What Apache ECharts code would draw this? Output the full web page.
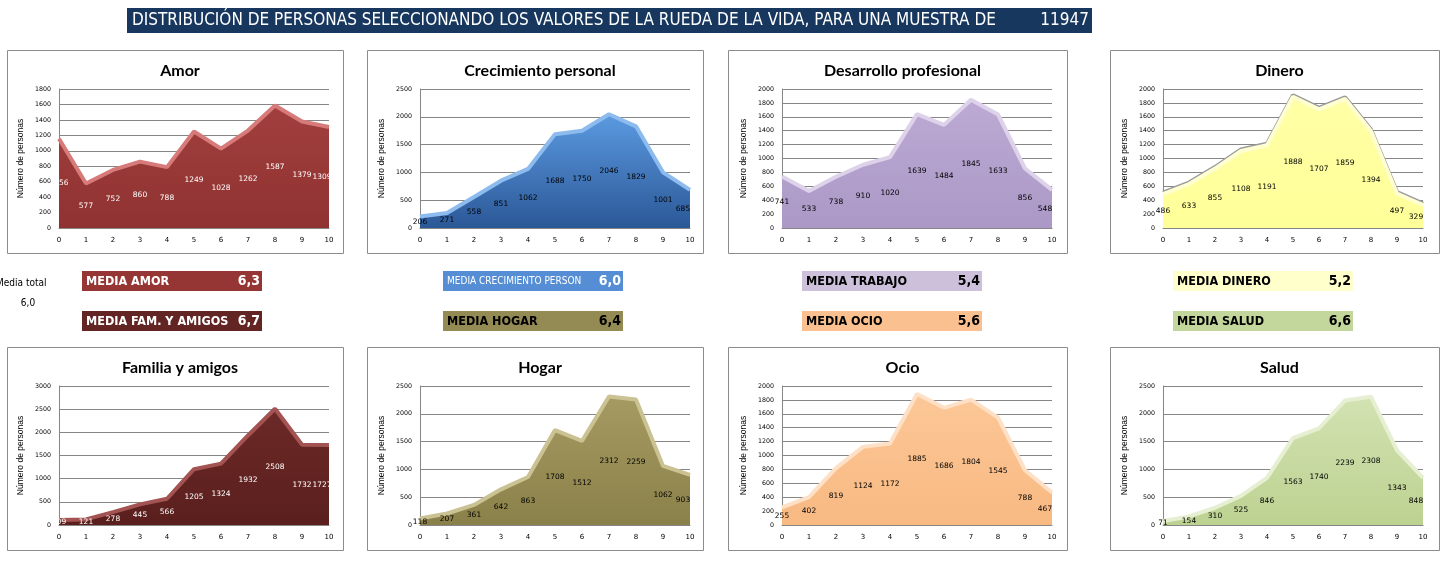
<!DOCTYPE html>
<html><head><meta charset="utf-8">
<script src="https://cdn.jsdelivr.net/npm/echarts@6/dist/echarts.min.js"></script>
<style>html,body{margin:0;padding:0;background:#fff;overflow:hidden}#c{width:1450px;height:562px}</style>
</head><body><div id="c"></div>
<script>
// ---------- DATA ----------
const xCategories = ['0','1','2','3','4','5','6','7','8','9','10'];
const chartTitles = ['Amor','Crecimiento personal','Desarrollo profesional','Dinero','Familia y amigos','Hogar','Ocio','Salud'];
const amor        = [1156, 577, 752, 860, 788, 1249, 1028, 1262, 1587, 1379, 1309];
const crecimiento = [206, 271, 558, 851, 1062, 1688, 1750, 2046, 1829, 1001, 685];
const desarrollo  = [741, 533, 738, 910, 1020, 1639, 1484, 1845, 1633, 856, 548];
const dinero      = [486, 633, 855, 1108, 1191, 1888, 1707, 1859, 1394, 497, 329];
const familia     = [109, 121, 278, 445, 566, 1205, 1324, 1932, 2508, 1732, 1727];
const hogar       = [118, 207, 361, 642, 863, 1708, 1512, 2312, 2259, 1062, 903];
const ocio        = [255, 402, 819, 1124, 1172, 1885, 1686, 1804, 1545, 788, 467];
const salud       = [71, 154, 310, 525, 846, 1563, 1740, 2239, 2308, 1343, 848];
const yMaxima     = [1800, 2500, 2000, 2000, 3000, 2500, 2000, 2500];
const yIntervals  = [200, 500, 200, 200, 500, 500, 200, 500];
const yAxisName   = 'Número de personas';
const mediaLabels = ['MEDIA AMOR','MEDIA CRECIMIENTO PERSONAL','MEDIA TRABAJO','MEDIA DINERO','MEDIA FAM. Y AMIGOS','MEDIA HOGAR','MEDIA OCIO','MEDIA SALUD'];
const mediaValues = ['6,3','6,0','5,4','5,2','6,7','6,4','5,6','6,6'];
const mediaTotalLabel = 'Media total';
const mediaTotal  = '6,0';
const mainTitle   = 'DISTRIBUCIÓN DE PERSONAS SELECCIONANDO LOS VALORES DE LA RUEDA DE LA VIDA, PARA UNA MUESTRA DE';
const sampleSize  = '11947';

const seriesData = [amor, crecimiento, desarrollo, dinero, familia, hogar, ocio, salud];

// ---------- STYLE / LAYOUT ----------
const NARROW = '"DejaVu Sans Condensed", "Liberation Sans Narrow", sans-serif';
const styles = [
  {top:'#a13f3e', bot:'#8f3231', edge:'#d77a7a', label:'#ffffff'},
  {top:'#5b9ae0', bot:'#2b5897', edge:'#8dbbee', label:'#000000'},
  {top:'#bcaad4', bot:'#ab98c6', edge:'#ddd2ea', label:'#000000'},
  {top:'#ffffa6', bot:'#ffff99', edge:'#ffffd2', label:'#000000', outline:'#9a9a9a'},
  {top:'#6c2927', bot:'#5a1f1d', edge:'#a25352', label:'#ffffff'},
  {top:'#a59b62', bot:'#8a8049', edge:'#cac293', label:'#000000'},
  {top:'#fcc797', bot:'#f8b982', edge:'#fde0c6', label:'#000000'},
  {top:'#d3e2b2', bot:'#bcd291', edge:'#e6efd2', label:'#000000'}
];
const gridLefts  = [59, 420, 782, 1163];
const gridWidths = [270, 270, 270, 260];
const gridTops   = [89, 386];
const gridH = 139;
const boxes = [[7,336],[367,336],[728,339],[1110,329]];
const boxTops = [50, 347];
const boxH = 203;
const bandX = [82, 443, 802, 1173];
const bandY = [271, 311];
const bandColors = ['#963634','#558ed5','#ccc0da','#ffffcc','#632523','#948a54','#fac090','#c3d69b'];
const bandText   = ['#ffffff','#ffffff','#000000','#000000','#ffffff','#000000','#000000','#000000'];
const lastIndex = xCategories.length - 1;

const grids = [], xAxes = [], yAxes = [], series = [], titles = [], graphics = [];

// title bar
graphics.push({type:'rect', shape:{x:127,y:8,width:965,height:25}, style:{fill:'#17375e'}, silent:true, z:0});
graphics.push({type:'text', x:132, y:21, style:{text:mainTitle, fill:'#fff', font:'17px '+NARROW, textVerticalAlign:'middle', textAlign:'left'}, silent:true, z:1});
graphics.push({type:'text', x:1089, y:21, style:{text:sampleSize, fill:'#fff', font:'17px '+NARROW, textVerticalAlign:'middle', textAlign:'right'}, silent:true, z:1});

for (let i = 0; i < 8; i++) {
  const col = i % 4, row = Math.floor(i / 4);
  const st = styles[i];
  graphics.push({type:'rect', shape:{x:boxes[col][0]+0.5, y:boxTops[row]+0.5, width:boxes[col][1], height:boxH},
    style:{fill:'#fff', stroke:'#8c8c8c', lineWidth:1}, silent:true, z:-10});
  titles.push({text: chartTitles[i], left: boxes[col][0] + boxes[col][1]/2, top: boxTops[row] + 8, textAlign:'center',
    textStyle:{fontFamily:'Lato, "Open Sans", sans-serif', fontWeight:'bold', fontSize:16, color:'#000'}});
  const bottomY = gridTops[row] + gridH;
  grids.push({left: gridLefts[col], top: gridTops[row], width: gridWidths[col], height: gridH, containLabel:false});
  xAxes.push({gridIndex:i, type:'category', data:xCategories, boundaryGap:false,
    axisLine:{lineStyle:{color:'#868686'}}, axisTick:{show:false},
    axisLabel:{interval:0, fontSize:7, fontFamily:'DejaVu Sans', color:'#000', margin:9}, splitLine:{show:false}});
  yAxes.push({gridIndex:i, type:'value', min:0, max:yMaxima[i], interval:yIntervals[i],
    name:yAxisName, nameLocation:'middle', nameGap:34,
    nameTextStyle:{fontSize:8.5, fontFamily:'"Liberation Sans", sans-serif', color:'#000'},
    axisLine:{show:true, lineStyle:{color:'#868686'}}, axisTick:{show:false},
    axisLabel:{fontSize:6.3, fontFamily:'DejaVu Sans', color:'#000', margin:8, formatter:(v) => String(v)},
    splitLine:{show:true, lineStyle:{color:'#868686', width:1}}});
  const lineStyle = {color:st.edge, width:4};
  if (st.outline) { lineStyle.shadowColor = st.outline; lineStyle.shadowOffsetY = -1.5; lineStyle.shadowBlur = 0; }
  series.push({type:'line', xAxisIndex:i, yAxisIndex:i, data:seriesData[i], animation:false, silent:true, clip:false,
    symbol:'circle', symbolSize:1, showSymbol:true, itemStyle:{color:'rgba(0,0,0,0)'},
    lineStyle:lineStyle,
    areaStyle:{opacity:1, color:new echarts.graphic.LinearGradient(0,0,0,1,[{offset:0,color:st.top},{offset:1,color:st.bot}])},
    label:{show:true, color:st.label, fontSize:7.5, fontFamily:'DejaVu Sans', position:'top'},
    labelLayout: (p) => ({
      x: p.rect.x + p.rect.width/2 - (p.dataIndex === lastIndex ? 7 : 0),
      y: (p.rect.y + p.rect.height/2 + bottomY)/2, align:'center', verticalAlign:'middle'}),
    z:2});
  const bx = bandX[col], by = bandY[row];
  graphics.push({type:'rect', shape:{x:bx, y:by, width:180, height:20}, style:{fill:bandColors[i]}, silent:true, z:0});
  const small = mediaLabels[i].length > 20;
  graphics.push({type:'text', x:bx+4, y:by+10.5, style:{text:mediaLabels[i], fill:bandText[i],
    font:(small ? '10px ' : 'bold 12.5px ') + NARROW, textVerticalAlign:'middle', textAlign:'left',
    width:small?137:150, overflow:'truncate', ellipsis:''}, silent:true, z:1});
  graphics.push({type:'text', x:bx+178, y:by+10.5, style:{text:mediaValues[i], fill:bandText[i],
    font:'bold 14px '+NARROW, textVerticalAlign:'middle', textAlign:'right'}, silent:true, z:1});
}
graphics.push({type:'text', x:-4, y:283, style:{text:mediaTotalLabel, fill:'#000', font:'10px '+NARROW, textVerticalAlign:'middle', textAlign:'left'}, silent:true});
graphics.push({type:'text', x:28, y:303, style:{text:mediaTotal, fill:'#000', font:'10px '+NARROW, textVerticalAlign:'middle', textAlign:'center'}, silent:true});

const chart = echarts.init(document.getElementById('c'));
chart.setOption({animation:false, backgroundColor:'#fff', title:titles, grid:grids, xAxis:xAxes, yAxis:yAxes, series:series, graphic:graphics});
</script></body></html>
